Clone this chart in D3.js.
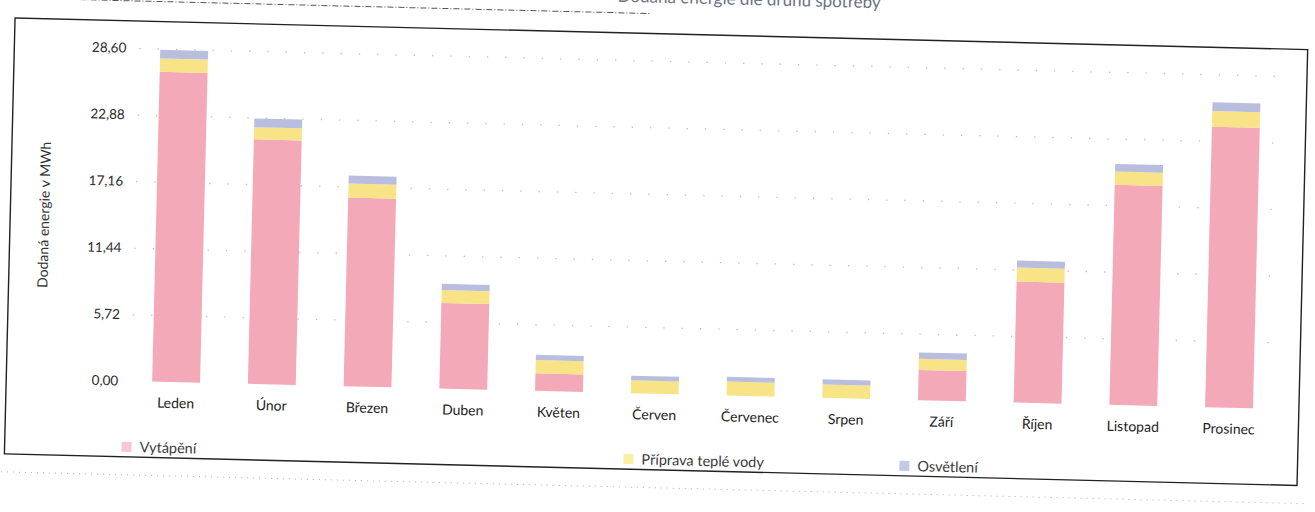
<!DOCTYPE html>
<html lang="cs">
<head>
<meta charset="utf-8">
<title>Dodaná energie dle druhu spotřeby</title>
<script src="https://cdn.jsdelivr.net/npm/d3@7"></script>
<style>
    html, body { margin: 0; padding: 0; background: #fff; }
    #chart { width: 1315px; height: 512px; overflow: hidden; }
    text { font-family: Lato, "Open Sans", "Noto Sans", sans-serif; }
</style>
</head>
<body>
<div id="chart"></div>
<script>
// Monthly delivered energy (MWh)
const months = ['Leden', 'Únor', 'Březen', 'Duben', 'Květen', 'Červen',
    'Červenec', 'Srpen', 'Září', 'Říjen', 'Listopad', 'Prosinec'];
const vytapeni = [26.6, 21.0, 16.2, 7.35, 1.5, 0, 0, 0, 2.6, 10.4, 18.9, 24.1];
const pripravaVody = [1.15, 1.05, 1.2, 1.1, 1.15, 1.1, 1.2, 1.15, 0.95, 1.2, 1.15, 1.35];
const osvetleni = [0.75, 0.75, 0.7, 0.55, 0.45, 0.4, 0.4, 0.45, 0.55, 0.6, 0.65, 0.75];
const yTicks = [0, 5.72, 11.44, 17.16, 22.88, 28.60];
const seriesNames = ['Vytápění', 'Příprava teplé vody', 'Osvětlení'];

class EnergyStackChart {
    constructor(containerId) {
        this.containerId = containerId;
        this.width = 1315;
        this.height = 512;
        // the original is a slightly skewed scan, so the whole sheet is tilted
        this.tilt = 1.4;
        this.colors = ['#f3a9b8', '#f8e487', '#b9bedf'];
        this.swatchColors = ['#f7c8d3', '#fbefa6', '#c3cae6'];
    }

    init() {
        const container = d3.select(`#${this.containerId}`);
        container.selectAll('*').remove();

        this.svg = container.append('svg')
            .attr('width', this.width)
            .attr('height', this.height);

        this.sheet = this.svg.append('g')
            .attr('transform', `rotate(${this.tilt}, 15, 20)`);
    }

    render() {
        const g = this.sheet;

        // Build stacked rows from the series arrays
        const keys = ['vyt', 'tv', 'osv'];
        const rows = months.map((m, i) => ({
            month: m, vyt: vytapeni[i], tv: pripravaVody[i], osv: osvetleni[i]
        }));
        const stacked = d3.stack().keys(keys)(rows);

        const x = d3.scaleBand()
            .domain(months)
            .range([137, 1286])
            .paddingInner(0.5)
            .paddingOuter(0.25);

        const y = d3.scaleLinear()
            .domain([0, 28.6])
            .range([378, 45]);

        // Page remnants around the chart box (header rule and cut-off title)
        g.append('line')
            .attr('x1', -20).attr('x2', 650)
            .attr('y1', -2).attr('y2', -2)
            .style('stroke', '#555')
            .style('stroke-width', 1)
            .style('stroke-dasharray', '6,2,1,2');

        g.append('text')
            .attr('x', 880)
            .attr('y', -13)
            .attr('text-anchor', 'end')
            .style('font-size', '17px')
            .style('fill', '#6b7288')
            .text('Dodaná energie dle druhu spotřeby');

        // Chart frame
        g.append('rect')
            .attr('x', 15).attr('y', 18)
            .attr('width', 1293).attr('height', 436)
            .style('fill', 'none')
            .style('stroke', '#222')
            .style('stroke-width', 1.4);

        g.append('line')
            .attr('x1', 0).attr('x2', 1315)
            .attr('y1', 472).attr('y2', 472)
            .style('stroke', '#aaa')
            .style('stroke-width', 1)
            .style('stroke-dasharray', '1,5');

        // Sparse dotted gridlines
        g.append('g')
            .attr('class', 'grid')
            .attr('transform', 'translate(140,0)')
            .call(d3.axisLeft(y)
                .tickValues(yTicks.slice(1))
                .tickSize(-1150)
                .tickFormat(''))
            .call(sel => sel.select('.domain').remove())
            .selectAll('line')
            .style('stroke', '#555')
            .style('stroke-width', 1.3)
            .style('stroke-opacity', 0.4)
            .style('stroke-dasharray', '1.3,17');

        // Y axis labels
        g.append('g')
            .attr('class', 'y-axis')
            .attr('transform', 'translate(127,0)')
            .call(d3.axisLeft(y)
                .tickValues(yTicks)
                .tickSize(0)
                .tickPadding(0)
                .tickFormat(d => d3.format('.2f')(d).replace('.', ',')))
            .call(sel => sel.select('.domain').remove())
            .selectAll('text')
            .style('font-size', '13.5px')
            .style('fill', '#2a2a2a');

        g.append('text')
            .attr('text-anchor', 'middle')
            .attr('transform', 'translate(49,214) rotate(-90)')
            .attr('dy', '0.35em')
            .style('font-size', '14px')
            .style('fill', '#333')
            .text('Dodaná energie v MWh');

        // Stacked bars
        g.selectAll('.layer')
            .data(stacked)
            .enter()
            .append('g')
            .attr('class', 'layer')
            .attr('fill', (d, i) => this.colors[i])
            .selectAll('rect')
            .data(d => d)
            .enter()
            .append('rect')
            .attr('x', d => x(d.data.month))
            .attr('y', d => y(d[1]))
            .attr('width', x.bandwidth())
            .attr('height', d => y(d[0]) - y(d[1]));

        // Month labels
        g.append('g')
            .attr('class', 'x-axis')
            .attr('transform', 'translate(0,391)')
            .call(d3.axisBottom(x).tickSize(0).tickPadding(3))
            .call(sel => sel.select('.domain').remove())
            .selectAll('text')
            .style('font-size', '14px')
            .style('fill', '#222');

        // Legend, spread out as in the original
        const legendX = [132, 634, 910];
        const legend = g.selectAll('.legend-item')
            .data(seriesNames)
            .enter()
            .append('g')
            .attr('class', 'legend-item')
            .attr('transform', (d, i) => `translate(${legendX[i]},439)`);

        legend.append('rect')
            .attr('width', 10)
            .attr('height', 10)
            .attr('fill', (d, i) => this.swatchColors[i]);

        legend.append('text')
            .attr('x', 18)
            .attr('y', 10)
            .style('font-size', '14.5px')
            .style('fill', '#3a3a3a')
            .text(d => d);
    }
}

const chart = new EnergyStackChart('chart');
chart.init();
chart.render();
</script>
</body>
</html>
